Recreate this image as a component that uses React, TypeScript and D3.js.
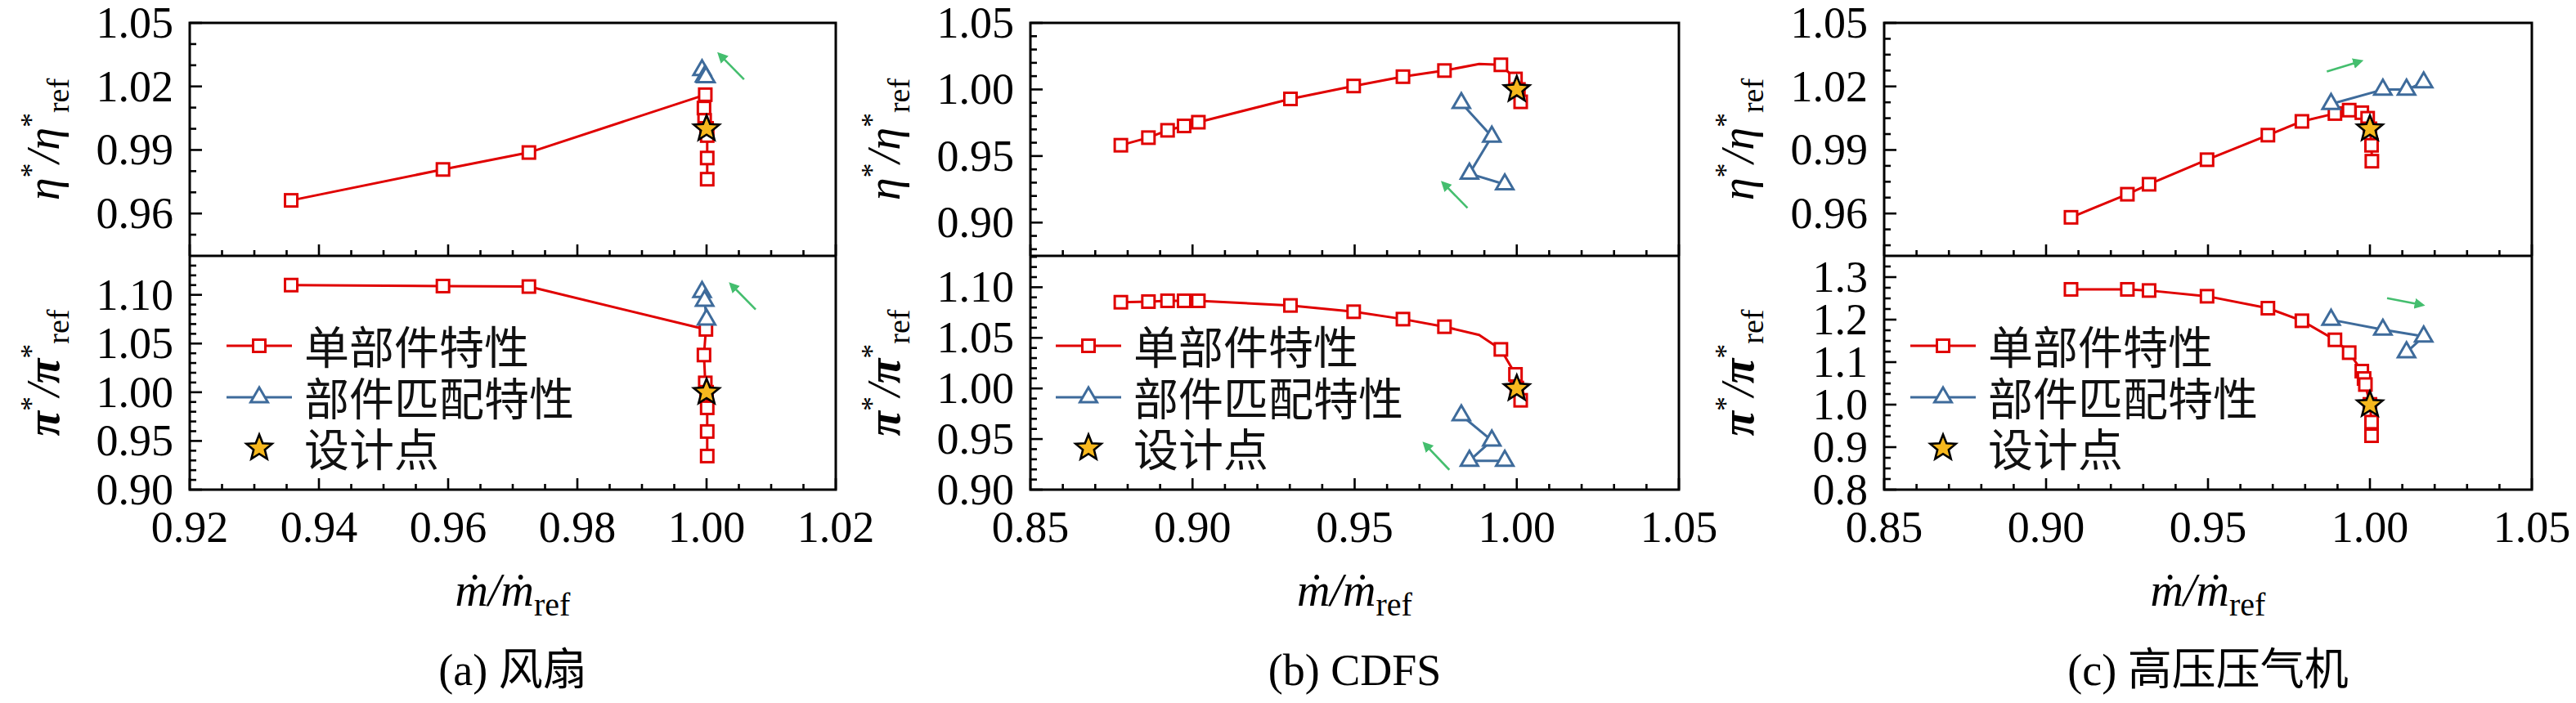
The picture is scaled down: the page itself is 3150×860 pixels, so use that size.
import React, { useEffect } from 'react';
import * as d3 from 'd3';

type P = number[]; // [massFlow, value, marked(optional: 0 = no marker)]

// ---------- (a) 风扇 ----------
const fanMassTicks = [0.92, 0.94, 0.96, 0.98, 1.0, 1.02];
const fanEtaTicks = [0.96, 0.99, 1.02, 1.05];
const fanPiTicks = [0.9, 0.95, 1.0, 1.05, 1.1];
const fanEtaSingle: P[] = [
  [0.9357, 0.9662], [0.9592, 0.9808], [0.9725, 0.9888], [0.9998, 1.0161], [0.9996, 1.0098],
  [0.9997, 1.004], [1.0, 1.0002], [1.0001, 0.9968], [1.0001, 0.9862], [1.0001, 0.9762],
];
const fanEtaMatch: P[] = [[0.9993, 1.0277], [0.9997, 1.0247], [0.9999, 1.0244]];
const fanPiSingle: P[] = [
  [0.9357, 1.11], [0.9592, 1.109], [0.9725, 1.1085], [0.9999, 1.0645], [0.9996, 1.0382],
  [0.9998, 1.0096], [1.0, 1.0], [1.0001, 0.984], [1.0001, 0.9597], [1.0001, 0.9345],
];
const fanPiMatch: P[] = [[0.9993, 1.103], [0.9997, 1.094], [1.0, 1.0747]];
const fanEtaArrow: P[] = [[1.0058, 1.0233], [1.002, 1.0351]];
const fanPiArrow: P[] = [[1.0076, 1.085], [1.0038, 1.1106]];

// ---------- (b) CDFS ----------
const cdfsMassTicks = [0.85, 0.9, 0.95, 1.0, 1.05];
const cdfsEtaTicks = [0.9, 0.95, 1.0, 1.05];
const cdfsPiTicks = [0.9, 0.95, 1.0, 1.05, 1.1];
const cdfsEtaSingle: P[] = [
  [0.8779, 0.9581], [0.8864, 0.9638], [0.8923, 0.9693], [0.8974, 0.9726], [0.9018, 0.9754],
  [0.9302, 0.9929], [0.9497, 1.0026], [0.9649, 1.0096], [0.9777, 1.0142], [0.9884, 1.0191, 0],
  [0.9951, 1.0185], [0.9996, 1.0079], [1.0005, 1.0], [1.0012, 0.9907],
];
const cdfsEtaMatch: P[] = [[0.9829, 0.9898], [0.9923, 0.9646], [0.9854, 0.9368], [0.9963, 0.9287]];
const cdfsPiSingle: P[] = [
  [0.8779, 1.0852], [0.8864, 1.0858], [0.8923, 1.0866], [0.8974, 1.0866], [0.9018, 1.0866],
  [0.9302, 1.082], [0.9497, 1.0758], [0.9649, 1.0685], [0.9777, 1.061], [0.9884, 1.0529, 0],
  [0.9951, 1.0386], [0.9996, 1.0139], [1.0, 1.0004], [1.0012, 0.9883],
];
const cdfsPiMatch: P[] = [[0.9829, 0.9735], [0.9923, 0.9486], [0.9854, 0.9285], [0.9963, 0.9285]];
const cdfsEtaArrow: P[] = [[0.9848, 0.911], [0.9773, 0.9297]];
const cdfsPiArrow: P[] = [[0.9792, 0.9196], [0.9716, 0.9452]];

// ---------- (c) 高压压气机 ----------
const hpcMassTicks = [0.85, 0.9, 0.95, 1.0, 1.05];
const hpcEtaTicks = [0.96, 0.99, 1.02, 1.05];
const hpcPiTicks = [0.8, 0.9, 1.0, 1.1, 1.2, 1.3];
const hpcEtaSingle: P[] = [
  [0.9077, 0.9582], [0.9251, 0.9691], [0.9318, 0.9738], [0.9497, 0.9854], [0.9685, 0.997],
  [0.979, 1.0035], [0.9892, 1.0072], [0.9936, 1.0088], [0.9975, 1.0076], [0.9993, 1.005],
  [1.0, 1.0], [1.0005, 0.9922], [1.0006, 0.9847],
];
const hpcEtaMatch: P[] = [[0.988, 1.0117], [1.004, 1.0185], [1.0113, 1.0185], [1.0166, 1.0219]];
const hpcPiSingle: P[] = [
  [0.9077, 1.2712], [0.9251, 1.2712], [0.9318, 1.2685], [0.9497, 1.255], [0.9685, 1.2269],
  [0.979, 1.1973], [0.9892, 1.1525], [0.9936, 1.1223], [0.9975, 1.0788], [0.9982, 1.0615],
  [0.9986, 1.0473], [1.0, 1.0006], [1.0005, 0.9589], [1.0005, 0.9269],
];
const hpcPiMatch: P[] = [[0.988, 1.1998], [1.004, 1.1764], [1.0166, 1.1604], [1.0113, 1.1233]];
const hpcEtaArrow: P[] = [[0.9867, 1.027], [0.9971, 1.0319]];
const hpcPiArrow: P[] = [[1.0053, 1.2506], [1.0161, 1.2346]];

const designPoint: P = [1.0, 1.0];
const captions = ['(a) 风扇', '(b) CDFS', '(c) 高压压气机'];
const legendLabels = ['单部件特性', '部件匹配特性', '设计点'];

// ---------- style / layout ----------
const W = 3150;
const H = 860;
const TOP = 28;
const MID = 313;
const BOT = 599;
const SERIF = 'Liberation Serif, Times New Roman, DejaVu Serif, serif';
const MIXED = 'Liberation Serif, Noto Sans CJK SC, serif';
const CJK = 'Noto Sans CJK SC, Noto Sans CJK JP, sans-serif';
const RED = '#E00000';
const BLUE = '#3E6B9B';
const GREEN = '#44BE6E';
const GOLD = '#F7B81E';

const panels = [
  {
    left: 232, right: 1022, xDomain: [0.92, 1.02], xTicks: fanMassTicks, xMinor: 0.005, xFmt: '.2f',
    etaDomain: [0.94, 1.05], etaTicks: fanEtaTicks, etaMinor: 0.01, etaFmt: '.2f',
    piDomain: [0.9, 1.14], piTicks: fanPiTicks, piMinor: 0.01, piFmt: '.2f',
    etaSingle: fanEtaSingle, etaMatch: fanEtaMatch, piSingle: fanPiSingle, piMatch: fanPiMatch,
    etaArrow: fanEtaArrow, piArrow: fanPiArrow, legendX: 277, caption: captions[0],
  },
  {
    left: 1260, right: 2053, xDomain: [0.85, 1.05], xTicks: cdfsMassTicks, xMinor: 0.01, xFmt: '.2f',
    etaDomain: [0.875, 1.05], etaTicks: cdfsEtaTicks, etaMinor: 0.01, etaFmt: '.2f',
    piDomain: [0.9, 1.131], piTicks: cdfsPiTicks, piMinor: 0.01, piFmt: '.2f',
    etaSingle: cdfsEtaSingle, etaMatch: cdfsEtaMatch, piSingle: cdfsPiSingle, piMatch: cdfsPiMatch,
    etaArrow: cdfsEtaArrow, piArrow: cdfsPiArrow, legendX: 1291, caption: captions[1],
  },
  {
    left: 2304, right: 3096, xDomain: [0.85, 1.05], xTicks: hpcMassTicks, xMinor: 0.01, xFmt: '.2f',
    etaDomain: [0.94, 1.05], etaTicks: hpcEtaTicks, etaMinor: 0.0075, etaFmt: '.2f',
    piDomain: [0.8, 1.35], piTicks: hpcPiTicks, piMinor: 0.025, piFmt: '.1f',
    etaSingle: hpcEtaSingle, etaMatch: hpcEtaMatch, piSingle: hpcPiSingle, piMatch: hpcPiMatch,
    etaArrow: hpcEtaArrow, piArrow: hpcPiArrow, legendX: 2336, caption: captions[2],
  },
];

function minorTicks(domain: number[], majors: number[], step: number) {
  const lo = Math.min(domain[0], domain[1]);
  const hi = Math.max(domain[0], domain[1]);
  const a = majors[0];
  const out: number[] = [];
  for (let k = -400; k <= 400; k++) {
    const v = a + k * step;
    if (v <= lo + 1e-9 || v >= hi - 1e-9) continue;
    if (majors.some((m) => Math.abs(m - v) < step / 10)) continue;
    out.push(v);
  }
  return out;
}

function starPath(R: number, r: number) {
  const pts: string[] = [];
  for (let i = 0; i < 10; i++) {
    const ang = -Math.PI / 2 + (i * Math.PI) / 5;
    const rad = i % 2 === 0 ? R : r;
    pts.push(`${(rad * Math.cos(ang)).toFixed(2)},${(rad * Math.sin(ang)).toFixed(2)}`);
  }
  return 'M' + pts.join('L') + 'Z';
}

const SQ = 15;
const TRI = 21;
const triPath = (() => {
  const h = TRI / Math.sqrt(3);
  return `M0,${-h}L${TRI / 2},${h / 2}L${-TRI / 2},${h / 2}Z`;
})();
const STAR = starPath(16.5, 7.2);

function Square({ cx, cy }: { cx: number; cy: number }) {
  return <rect x={cx - SQ / 2} y={cy - SQ / 2} width={SQ} height={SQ} fill="#fff" stroke={RED} strokeWidth={3} />;
}
function Triangle({ cx, cy }: { cx: number; cy: number }) {
  return <path d={triPath} transform={`translate(${cx},${cy})`} fill="#fff" stroke={BLUE} strokeWidth={3} />;
}
function Star({ cx, cy }: { cx: number; cy: number }) {
  return <path d={STAR} transform={`translate(${cx},${cy})`} fill={GOLD} stroke="#000" strokeWidth={2.6} strokeLinejoin="miter" />;
}

function Series({ data, x, y, color, shape }: any) {
  const line = d3.line<P>().x((p) => x(p[0])).y((p) => y(p[1]));
  return (
    <g>
      <path d={line(data) || ''} fill="none" stroke={color} strokeWidth={3} strokeLinejoin="round" />
      {data
        .filter((p: P) => p[2] !== 0)
        .map((p: P, i: number) =>
          shape === 'square' ? <Square key={i} cx={x(p[0])} cy={y(p[1])} /> : <Triangle key={i} cx={x(p[0])} cy={y(p[1])} />
        )}
    </g>
  );
}

function Arrow({ pts, x, y }: any) {
  return (
    <line x1={x(pts[0][0])} y1={y(pts[0][1])} x2={x(pts[1][0])} y2={y(pts[1][1])} stroke={GREEN} strokeWidth={2.6} markerEnd="url(#greenHead)" />
  );
}

function YTitle({ cx, cy, sym }: { cx: number; cy: number; sym: string }) {
  const bold = sym === 'π' ? 700 : 400;
  return (
    <text transform={`translate(${cx},${cy}) rotate(-90)`} textAnchor="middle" style={{ fontFamily: SERIF, fontSize: 56 }}>
      <tspan style={{ fontStyle: 'italic', fontWeight: bold }}>{sym}</tspan>
      <tspan dy={-22} style={{ fontSize: 36 }}>*</tspan>
      <tspan dy={22} style={{ fontStyle: 'italic' }}>/</tspan>
      <tspan style={{ fontStyle: 'italic', fontWeight: bold }}>{sym}</tspan>
      <tspan dy={-22} style={{ fontSize: 36 }}>*</tspan>
      <tspan dy={34} style={{ fontSize: 38 }}>ref</tspan>
    </text>
  );
}

function Panel({ s }: { s: any }) {
  const x = d3.scaleLinear().domain(s.xDomain).range([s.left, s.right]);
  const yE = d3.scaleLinear().domain(s.etaDomain).range([MID, TOP]);
  const yP = d3.scaleLinear().domain(s.piDomain).range([BOT, MID]);
  const xMin = minorTicks(s.xDomain, s.xTicks, s.xMinor);
  const eMin = minorTicks(s.etaDomain, s.etaTicks, s.etaMinor);
  const pMin = minorTicks(s.piDomain, s.piTicks, s.piMinor);
  const fx = d3.format(s.xFmt);
  const fe = d3.format(s.etaFmt);
  const fp = d3.format(s.piFmt);
  const cx = (s.left + s.right) / 2;
  const L = s.legendX;
  const rows = [423, 486, 548];
  const tick = { stroke: '#000', strokeWidth: 2.6 };
  const serifStyle = { fontFamily: SERIF, fontSize: 54 };
  return (
    <g>
      {/* ticks */}
      {[MID, BOT].map((base) => (
        <g key={base}>
          {s.xTicks.map((t: number) => <line key={'M' + t} x1={x(t)} x2={x(t)} y1={base} y2={base - 14} {...tick} />)}
          {xMin.map((t: number) => <line key={'m' + t} x1={x(t)} x2={x(t)} y1={base} y2={base - 7} {...tick} />)}
        </g>
      ))}
      {s.etaTicks.map((t: number) => <line key={'eM' + t} x1={s.left} x2={s.left + 15} y1={yE(t)} y2={yE(t)} {...tick} />)}
      {eMin.map((t: number) => <line key={'em' + t} x1={s.left} x2={s.left + 8} y1={yE(t)} y2={yE(t)} {...tick} />)}
      {s.piTicks.map((t: number) => <line key={'pM' + t} x1={s.left} x2={s.left + 15} y1={yP(t)} y2={yP(t)} {...tick} />)}
      {pMin.map((t: number) => <line key={'pm' + t} x1={s.left} x2={s.left + 8} y1={yP(t)} y2={yP(t)} {...tick} />)}

      {/* tick labels */}
      <g fill="#000">
        {s.xTicks.map((t: number) => (
          <text key={'xl' + t} x={x(t)} y={663} textAnchor="middle" style={serifStyle}>{fx(t)}</text>
        ))}
        {s.etaTicks.map((t: number) => (
          <text key={'el' + t} x={s.left - 20} y={yE(t) + 18} textAnchor="end" style={serifStyle}>{fe(t)}</text>
        ))}
        {s.piTicks.map((t: number) => (
          <text key={'pl' + t} x={s.left - 20} y={yP(t) + 18} textAnchor="end" style={serifStyle}>{fp(t)}</text>
        ))}
      </g>

      {/* data: efficiency */}
      <Series data={s.etaSingle} x={x} y={yE} color={RED} shape="square" />
      <Series data={s.etaMatch} x={x} y={yE} color={BLUE} shape="triangle" />
      <Star cx={x(designPoint[0])} cy={yE(designPoint[1])} />
      <Arrow pts={s.etaArrow} x={x} y={yE} />

      {/* data: pressure ratio */}
      <Series data={s.piSingle} x={x} y={yP} color={RED} shape="square" />
      <Series data={s.piMatch} x={x} y={yP} color={BLUE} shape="triangle" />
      <Star cx={x(designPoint[0])} cy={yP(designPoint[1])} />
      <Arrow pts={s.piArrow} x={x} y={yP} />

      {/* frame */}
      <rect x={s.left} y={TOP} width={s.right - s.left} height={BOT - TOP} fill="none" stroke="#000" strokeWidth={3} />
      <line x1={s.left} x2={s.right} y1={MID} y2={MID} stroke="#000" strokeWidth={3} />

      {/* legend */}
      <g>
        <line x1={L} x2={L + 80} y1={rows[0]} y2={rows[0]} stroke={RED} strokeWidth={3} />
        <Square cx={L + 40} cy={rows[0]} />
        <line x1={L} x2={L + 80} y1={rows[1]} y2={rows[1]} stroke={BLUE} strokeWidth={3} />
        <Triangle cx={L + 40} cy={rows[1]} />
        <Star cx={L + 40} cy={rows[2]} />
        {legendLabels.map((t, i) => (
          <text key={t} x={L + 95} y={rows[i] + 22} style={{ fontFamily: CJK, fontSize: 55 }} fill="#111">{t}</text>
        ))}
      </g>

      {/* axis titles */}
      <YTitle cx={s.left - 160} cy={(TOP + MID) / 2} sym="η" />
      <YTitle cx={s.left - 160} cy={(MID + BOT) / 2} sym="π" />
      <text x={cx} y={741} textAnchor="middle" style={{ fontFamily: SERIF, fontSize: 56 }}>
        <tspan style={{ fontStyle: 'italic' }}>ṁ/ṁ</tspan>
        <tspan dy={12} style={{ fontSize: 40 }}>ref</tspan>
      </text>

      {/* caption */}
      <text x={cx} y={838} textAnchor="middle" style={{ fontFamily: MIXED, fontSize: 54 }}>{s.caption}</text>
    </g>
  );
}

export default function App() {
  useEffect(() => {
    document.body.style.margin = '0';
  }, []);
  return (
    <svg width={W} height={H} viewBox={`0 0 ${W} ${H}`} style={{ display: 'block', background: '#fff', fontFamily: SERIF }}>
      <defs>
        <marker id="greenHead" viewBox="0 0 10 10" refX="7" refY="5" markerWidth="5" markerHeight="5" orient="auto" markerUnits="strokeWidth">
          <path d="M0,0 L10,5 L0,10 z" fill={GREEN} />
        </marker>
      </defs>
      <rect width={W} height={H} fill="#fff" />
      {panels.map((s, i) => (
        <Panel key={i} s={s} />
      ))}
    </svg>
  );
}
